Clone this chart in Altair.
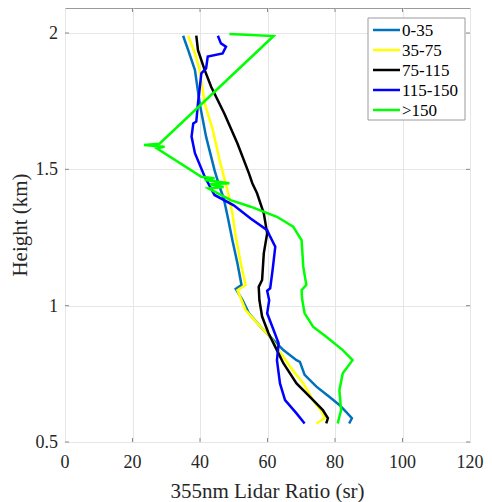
import altair as alt
import pandas as pd

series = ["0-35", "35-75", "75-115", "115-150", ">150"]
colors = ["#0072BD", "#FFFF00", "#000000", "#0000FF", "#00FF00"]
x_ticks = [0, 20, 40, 60, 80, 100, 120]
x_labels = ["0", "20", "40", "60", "80", "100", "120"]
y_ticks = [0.5, 1, 1.5, 2]
y_labels = ["0.5", "1", "1.5", "2"]
x_title = "355nm Lidar Ratio (sr)"
y_title = "Height (km)"

lr_0_35 = [84.2, 85.0, 83.7, 81.3, 78.3, 74.5, 71.0, 69.6, 68.6, 64.7, 61.8, 57.9, 54.5, 52.6,
           50.6, 52.3, 51.1, 49.6, 48.2, 47.0, 45.8, 44.3, 41.8, 39.9, 38.5, 36.5, 35.0]
h_0_35 = [0.568, 0.587, 0.605, 0.636, 0.666, 0.703, 0.746, 0.794, 0.800, 0.837, 0.874, 0.923, 0.972, 1.020,
          1.062, 1.076, 1.155, 1.240, 1.326, 1.395, 1.436, 1.497, 1.620, 1.742, 1.864, 1.937, 1.990]

lr_35_75 = [74.5, 76.9, 76.4, 73.5, 70.6, 66.7, 63.3, 60.8, 57.9, 53.5,
            51.1, 53.5, 52.1, 50.6, 49.6, 48.4, 45.8, 43.8, 41.4, 39.9, 38.5, 36.5]
h_35_75 = [0.568, 0.587, 0.605, 0.654, 0.715, 0.776, 0.837, 0.886, 0.923, 0.984,
           1.057, 1.076, 1.155, 1.253, 1.339, 1.410, 1.534, 1.644, 1.742, 1.864, 1.925, 1.990]

lr_75_115 = [77.4, 77.9, 76.4, 72.5, 68.6, 64.7, 62.3, 60.3, 58.4, 57.6, 57.4, 58.4, 58.9, 59.9,
             58.9, 56.9, 55.5, 54.5, 51.1, 47.2, 43.3, 41.4, 39.4, 38.9]
h_75_115 = [0.568, 0.587, 0.617, 0.666, 0.715, 0.789, 0.849, 0.899, 0.960, 1.020, 1.069, 1.094, 1.192, 1.265,
            1.339, 1.412, 1.449, 1.485, 1.595, 1.705, 1.803, 1.864, 1.937, 1.990]

lr_115_150 = [71.0, 68.6, 65.2, 63.7, 62.8, 63.3, 61.8, 59.9, 60.5, 59.9, 60.8, 61.5, 62.3, 60.8, 59.9,
              55.0, 50.0, 44.3, 41.4, 38.5, 37.5, 38.0, 38.9, 39.4, 40.4, 41.8, 42.3, 46.7, 47.7,
              46.2, 45.3]
h_115_150 = [0.568, 0.605, 0.654, 0.715, 0.800, 0.862, 0.911, 0.972, 1.020, 1.055, 1.064, 1.130, 1.216, 1.253, 1.277,
             1.320, 1.368, 1.406, 1.473, 1.559, 1.620, 1.668, 1.675, 1.742, 1.852, 1.870, 1.914, 1.925, 1.950,
             1.962, 1.990]

lr_150 = [80.8, 81.8, 81.3, 82.3, 85.2, 82.3, 77.4, 73.5, 71.0, 70.3, 70.1, 71.5, 70.6, 70.1, 67.6,
          62.8, 55.0, 49.1, 45.3, 42.5, 47.0, 43.0, 48.7, 41.4, 44.3, 40.4, 27.2, 29.5, 23.4, 28.0,
          61.8, 48.7]
h_150 = [0.568, 0.617, 0.690, 0.752, 0.800, 0.837, 0.886, 0.923, 0.972, 1.020, 1.057, 1.076, 1.143, 1.240, 1.290,
         1.326, 1.363, 1.387, 1.412, 1.430, 1.435, 1.445, 1.449, 1.461, 1.467, 1.473, 1.577, 1.583, 1.589, 1.594,
         1.989, 1.996]

all_x = [lr_0_35, lr_35_75, lr_75_115, lr_115_150, lr_150]
all_y = [h_0_35, h_35_75, h_75_115, h_115_150, h_150]

rows = []
for name, xs, ys in zip(series, all_x, all_y):
    for i, (xv, yv) in enumerate(zip(xs, ys)):
        rows.append({"series": name, "lr": xv, "h": yv, "i": i})
df = pd.DataFrame(rows)

FONT = "Liberation Serif"
TXT = "#262626"
TICK = "#8a8a8a"
FRAME = "#9a9a9a"
W, H = 405, 434

xscale = alt.Scale(domain=[0, 120], nice=False, zero=False)
yscale = alt.Scale(domain=[0.5, 2.0917], nice=False, zero=False)

lines = alt.Chart(df).mark_line(strokeWidth=2.5, clip=True).encode(
    x=alt.X("lr:Q", scale=xscale,
            axis=alt.Axis(values=x_ticks, title=None, labels=False, ticks=False, domain=False,
                          grid=True, gridColor="#e6e6e6", gridWidth=1)),
    y=alt.Y("h:Q", scale=yscale,
            axis=alt.Axis(values=y_ticks, title=None, labels=False, ticks=False, domain=False,
                          grid=True, gridColor="#e6e6e6", gridWidth=1)),
    color=alt.Color("series:N", scale=alt.Scale(domain=series, range=colors), legend=None),
    order=alt.Order("i:Q"),
)

xt = pd.DataFrame({"t": x_ticks, "lab": x_labels})
yt = pd.DataFrame({"t": y_ticks, "lab": y_labels})
xt_in = xt.iloc[1:-1]

xt_bottom = alt.Chart(xt_in).mark_rule(color=TICK, strokeWidth=1).encode(
    x=alt.X("t:Q", scale=xscale), y=alt.value(H), y2=alt.value(H - 4))
xt_top = alt.Chart(xt_in).mark_rule(color=TICK, strokeWidth=1).encode(
    x=alt.X("t:Q", scale=xscale), y=alt.value(0), y2=alt.value(4))
yt_left = alt.Chart(yt).mark_rule(color=TICK, strokeWidth=1).encode(
    y=alt.Y("t:Q", scale=yscale), x=alt.value(0), x2=alt.value(4))
yt_right = alt.Chart(yt).mark_rule(color=TICK, strokeWidth=1).encode(
    y=alt.Y("t:Q", scale=yscale), x=alt.value(W), x2=alt.value(W - 4))

x_lab = alt.Chart(xt).mark_text(font=FONT, fontSize=18, color=TXT, align="center",
                                baseline="alphabetic").encode(
    x=alt.X("t:Q", scale=xscale), y=alt.value(H + 26), text="lab:N")
y_lab = alt.Chart(yt).mark_text(font=FONT, fontSize=18, color=TXT, align="right",
                                baseline="middle", dy=1).encode(
    y=alt.Y("t:Q", scale=yscale), x=alt.value(-7), text="lab:N")

xtitle = alt.Chart(pd.DataFrame({"s": [x_title]})).mark_text(
    font=FONT, fontSize=21, color=TXT, align="center", baseline="alphabetic").encode(
    x=alt.value(W / 2), y=alt.value(H + 56), text="s:N")
ytitle = alt.Chart(pd.DataFrame({"s": [y_title]})).mark_text(
    font=FONT, fontSize=21, color=TXT, align="center", baseline="alphabetic", angle=270).encode(
    x=alt.value(-38), y=alt.value(H / 2), text="s:N")

# legend box and entries
LX, LY, LW, LH = 303, 10, 97, 102
legend_box = alt.Chart(pd.DataFrame({"a": [0]})).mark_rect(
    fill="#ffffff", stroke=FRAME, strokeWidth=1).encode(
    x=alt.value(LX), x2=alt.value(LX + LW), y=alt.value(LY), y2=alt.value(LY + LH))
legend_layers = [legend_box]
for k, (name, col) in enumerate(zip(series, colors)):
    cy = LY + 12 + 20 * k
    row = pd.DataFrame({"series": [name]})
    legend_layers.append(alt.Chart(row).mark_rule(strokeWidth=2.5, color=col).encode(
        x=alt.value(LX + 5), x2=alt.value(LX + 32), y=alt.value(cy)))
    legend_layers.append(alt.Chart(row).mark_text(
        font=FONT, fontSize=17, color="#000000", align="left", baseline="middle", dy=1).encode(
        x=alt.value(LX + 34), y=alt.value(cy), text="series:N"))

chart = alt.layer(xt_bottom, xt_top, yt_left, yt_right, lines, x_lab, y_lab, xtitle, ytitle,
                  *legend_layers).properties(
    width=W,
    height=H,
    autosize=alt.AutoSizeParams(type="none"),
    padding={"left": 57, "top": 0, "right": 14, "bottom": 60},
).configure_view(
    stroke=FRAME, strokeWidth=1
)

chart.save("out.html", embed_options={"renderer": "svg", "actions": False})
